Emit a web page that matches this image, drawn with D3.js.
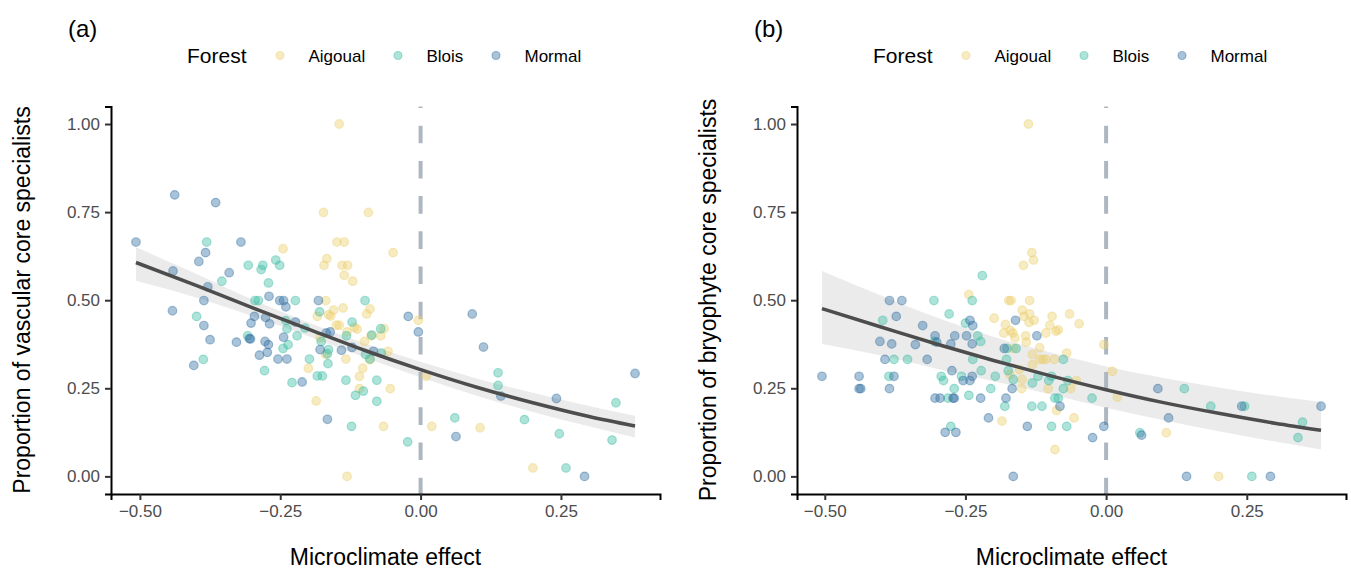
<!DOCTYPE html>
<html>
<head>
<meta charset="utf-8">
<script src="https://cdn.jsdelivr.net/npm/d3@7"></script>
<style>
body { margin: 0; background: #fff; }
text { font-family: 'Liberation Sans', Arial, sans-serif; }
</style>
</head>
<body>
<svg></svg>
<script>
// values: [microclimate effect, proportion]
let aigoualA = [[-0.145,1.00],[-0.173,0.749],[-0.093,0.749],[-0.149,0.665],[-0.136,0.665],[-0.245,0.646],[-0.049,0.635],[-0.167,0.618],[-0.172,0.599],[-0.140,0.599],[-0.130,0.599],[-0.136,0.571],[-0.121,0.554],[-0.169,0.499],[-0.200,0.307],[-0.186,0.214],[-0.131,0.000],[-0.066,0.142],[-0.109,0.284],[-0.103,0.307],[-0.109,0.249],[-0.054,0.249],[-0.133,0.333],[-0.169,0.346],[-0.091,0.331],[-0.058,0.355],[-0.100,0.383],[-0.088,0.399],[-0.071,0.399],[-0.065,0.419],[-0.131,0.410],[-0.118,0.423],[-0.150,0.429],[-0.145,0.429],[-0.113,0.418],[-0.179,0.393],[-0.164,0.459],[-0.160,0.455],[-0.184,0.454],[-0.155,0.472],[-0.138,0.478],[-0.096,0.461],[-0.090,0.475],[-0.004,0.443],[0.010,0.284],[0.020,0.142],[0.106,0.138],[0.200,0.024]]
let bloisA = [[-0.381,0.665],[-0.307,0.599],[-0.281,0.599],[-0.258,0.614],[-0.251,0.599],[-0.284,0.587],[-0.354,0.554],[-0.271,0.549],[-0.399,0.454],[-0.387,0.332],[-0.295,0.499],[-0.289,0.499],[-0.223,0.499],[-0.099,0.499],[-0.240,0.442],[-0.238,0.419],[-0.206,0.421],[-0.220,0.399],[-0.308,0.399],[-0.236,0.374],[-0.245,0.363],[-0.198,0.333],[-0.278,0.300],[-0.229,0.266],[-0.165,0.320],[-0.184,0.285],[-0.175,0.285],[-0.123,0.142],[-0.116,0.230],[-0.102,0.242],[-0.078,0.213],[-0.078,0.273],[-0.133,0.273],[-0.166,0.348],[-0.164,0.360],[-0.098,0.346],[-0.070,0.350],[-0.087,0.401],[-0.071,0.419],[-0.132,0.399],[-0.122,0.438],[-0.177,0.383],[-0.180,0.467],[-0.090,0.333],[-0.023,0.098],[0.061,0.166],[0.138,0.294],[0.138,0.258],[0.185,0.161],[0.247,0.121],[0.259,0.024],[0.348,0.209],[0.341,0.103]]
let mormalA = [[-0.438,0.799],[-0.365,0.777],[-0.507,0.665],[-0.320,0.665],[-0.383,0.635],[-0.395,0.610],[-0.441,0.583],[-0.341,0.578],[-0.379,0.538],[-0.442,0.470],[-0.386,0.499],[-0.386,0.428],[-0.375,0.388],[-0.404,0.315],[-0.270,0.511],[-0.251,0.499],[-0.244,0.499],[-0.240,0.481],[-0.182,0.499],[-0.296,0.454],[-0.302,0.435],[-0.276,0.451],[-0.269,0.433],[-0.223,0.438],[-0.305,0.391],[-0.303,0.390],[-0.277,0.383],[-0.271,0.374],[-0.244,0.395],[-0.273,0.352],[-0.287,0.344],[-0.254,0.333],[-0.238,0.333],[-0.328,0.381],[-0.211,0.268],[-0.166,0.162],[-0.179,0.360],[-0.141,0.358],[-0.122,0.366],[-0.084,0.355],[-0.161,0.410],[-0.168,0.407],[-0.022,0.454],[-0.004,0.410],[0.063,0.113],[0.092,0.461],[0.112,0.367],[0.143,0.228],[0.242,0.221],[0.292,0.000],[0.382,0.292]]

let aigoualB = [[-0.138,1.00],[-0.132,0.635],[-0.129,0.614],[-0.147,0.599],[-0.244,0.516],[-0.173,0.499],[-0.169,0.499],[-0.136,0.499],[-0.185,0.157],[-0.091,0.076],[-0.057,0.166],[-0.088,0.187],[-0.150,0.249],[-0.103,0.249],[-0.063,0.249],[-0.053,0.272],[-0.149,0.275],[-0.171,0.289],[-0.165,0.363],[-0.154,0.303],[-0.131,0.317],[-0.131,0.346],[-0.118,0.365],[-0.118,0.332],[-0.112,0.332],[-0.107,0.332],[-0.092,0.332],[-0.070,0.350],[-0.142,0.381],[-0.143,0.399],[-0.162,0.393],[-0.166,0.407],[-0.170,0.414],[-0.182,0.407],[-0.179,0.431],[-0.107,0.407],[-0.089,0.412],[-0.085,0.416],[-0.100,0.429],[-0.199,0.449],[-0.137,0.437],[-0.128,0.443],[-0.146,0.454],[-0.136,0.461],[-0.149,0.472],[-0.096,0.454],[-0.065,0.461],[-0.048,0.433],[-0.004,0.374],[0.011,0.298],[0.020,0.225],[0.107,0.124],[0.200,0.000]]
let bloisB = [[-0.220,0.570],[-0.306,0.499],[-0.238,0.499],[-0.397,0.443],[-0.279,0.461],[-0.250,0.435],[-0.305,0.383],[-0.228,0.399],[-0.223,0.383],[-0.377,0.332],[-0.353,0.332],[-0.237,0.332],[-0.386,0.284],[-0.293,0.284],[-0.289,0.272],[-0.257,0.284],[-0.222,0.300],[-0.270,0.249],[-0.281,0.222],[-0.244,0.230],[-0.205,0.249],[-0.197,0.284],[-0.276,0.142],[-0.097,0.142],[-0.070,0.142],[-0.132,0.199],[-0.114,0.199],[-0.180,0.199],[-0.091,0.222],[-0.085,0.222],[-0.076,0.249],[-0.131,0.265],[-0.102,0.272],[-0.068,0.272],[-0.097,0.284],[-0.121,0.284],[-0.165,0.275],[-0.174,0.300],[-0.177,0.332],[-0.176,0.363],[-0.160,0.363],[-0.076,0.332],[-0.025,0.222],[0.060,0.124],[0.139,0.249],[0.186,0.199],[0.246,0.199],[0.259,0.000],[0.349,0.154],[0.341,0.110]]
let mormalB = [[-0.385,0.499],[-0.363,0.499],[-0.373,0.454],[-0.326,0.428],[-0.242,0.443],[-0.237,0.428],[-0.402,0.383],[-0.381,0.376],[-0.339,0.374],[-0.304,0.399],[-0.301,0.381],[-0.269,0.399],[-0.276,0.376],[-0.248,0.399],[-0.238,0.376],[-0.393,0.332],[-0.318,0.332],[-0.505,0.284],[-0.439,0.284],[-0.377,0.284],[-0.439,0.249],[-0.436,0.249],[-0.385,0.249],[-0.274,0.300],[-0.238,0.284],[-0.254,0.272],[-0.242,0.272],[-0.304,0.222],[-0.295,0.222],[-0.272,0.222],[-0.270,0.222],[-0.223,0.222],[-0.209,0.166],[-0.286,0.125],[-0.267,0.125],[-0.165,0.000],[-0.140,0.142],[-0.082,0.199],[-0.178,0.222],[-0.167,0.249],[-0.181,0.363],[-0.123,0.399],[-0.161,0.443],[-0.024,0.110],[-0.004,0.142],[0.063,0.117],[0.092,0.249],[0.111,0.166],[0.143,0.000],[0.241,0.199],[0.292,0.000],[0.382,0.199]]

// fitted curve and its confidence band, read at these x positions
let fitXA = [-0.507, -0.4, -0.3, -0.2, -0.1, 0, 0.1, 0.2, 0.3, 0.382]
let fitA = [0.607, 0.542, 0.479, 0.418, 0.358, 0.303, 0.253, 0.209, 0.170, 0.143]
let loA = [0.555, 0.508, 0.455, 0.398, 0.338, 0.281, 0.229, 0.183, 0.142, 0.110]
let hiA = [0.650, 0.575, 0.502, 0.437, 0.378, 0.325, 0.278, 0.237, 0.200, 0.172]
let fitXB = [-0.505, -0.4, -0.3, -0.2, -0.1, 0, 0.1, 0.2, 0.3, 0.382]
let fitB = [0.476, 0.424, 0.375, 0.329, 0.286, 0.246, 0.210, 0.179, 0.151, 0.131]
let loB = [0.376, 0.343, 0.305, 0.270, 0.233, 0.195, 0.160, 0.128, 0.099, 0.076]
let hiB = [0.583, 0.513, 0.450, 0.396, 0.352, 0.312, 0.280, 0.252, 0.228, 0.211]

let forests = ['Aigoual', 'Blois', 'Mormal']
let xTicks = [-0.5, -0.25, 0, 0.25]
let yTicks = [0, 0.25, 0.5, 0.75, 1]

let width = 1351
let height = 571
let svg = d3.select('svg').attr('width', width).attr('height', height)
let color = d3.scaleOrdinal().domain(forests).range(['#EBCF6E', '#3BBDA4', '#336FA2'])

let drawPanel = (left, tag, yTitle, groups, fitX, fit, lo, hi) => {
    let g = svg.append('g')
    let all = groups.flat()
    let ext = d3.extent(all, (d) => d[0])
    let pad = (ext[1] - ext[0]) * 0.05
    let x = d3.scaleLinear().domain([ext[0] - pad, ext[1] + pad]).range([left, left + 549])
    let y = d3.scaleLinear().domain([-0.05, 1.05]).range([494, 106.4])

    // confidence band
    let band = d3.area()
        .x((d, i) => x(fitX[i]))
        .y0((d, i) => y(lo[i]))
        .y1((d, i) => y(hi[i]))
        .curve(d3.curveMonotoneX)
    g.append('path')
        .attr('d', band(fit))
        .attr('fill', '#999')
        .attr('fill-opacity', 0.2)

    // zero line
    g.append('line')
        .attr('x1', x(0)).attr('x2', x(0))
        .attr('y1', y.range()[0]).attr('y2', y.range()[1])
        .attr('stroke', '#AEB7C1')
        .attr('stroke-width', 4)
        .attr('stroke-dasharray', '17.6,17.6')
        .attr('stroke-dashoffset', 1.3)

    groups.forEach((pts, k) => {
        g.append('g').selectAll('circle')
            .data(pts)
            .enter()
            .append('circle')
            .attr('cx', (d) => x(d[0]))
            .attr('cy', (d) => y(d[1]))
            .attr('r', 4.3)
            .attr('fill', color(forests[k]))
            .attr('fill-opacity', 0.42)
            .attr('stroke', color(forests[k]))
            .attr('stroke-opacity', 0.42)
            .attr('stroke-width', 1.2)
    })

    let line = d3.line()
        .x((d, i) => x(fitX[i]))
        .y((d) => y(d))
        .curve(d3.curveMonotoneX)
    g.append('path')
        .attr('d', line(fit))
        .attr('fill', 'none')
        .attr('stroke', '#4D4D4D')
        .attr('stroke-width', 3.5)

    // axes
    let xAxis = d3.axisBottom(x).tickValues(xTicks).tickFormat(d3.format('.2f')).tickSizeOuter(0).tickSize(6).tickPadding(5)
    let yAxis = d3.axisLeft(y).tickValues(yTicks).tickFormat(d3.format('.2f')).tickSizeOuter(0).tickSize(6).tickPadding(5)
    let xg = g.append('g').attr('transform', 'translate(0,494)').call(xAxis)
    let yg = g.append('g').attr('transform', 'translate(' + left + ',0)').call(yAxis)
    ;[xg, yg].forEach((a) => {
        a.select('.domain').attr('stroke', '#000').attr('stroke-width', 2)
        a.selectAll('.tick line').attr('stroke', '#333').attr('stroke-width', 2)
        a.selectAll('.tick text').attr('fill', '#4D4D4D').style('font-size', '17px')
    })

    g.append('text')
        .attr('x', (x.range()[0] + x.range()[1]) / 2)
        .attr('y', 565)
        .attr('text-anchor', 'middle')
        .style('font-size', '23px')
        .text('Microclimate effect')
    g.append('text')
        .attr('transform', 'translate(' + (left - 81) + ',300) rotate(-90)')
        .attr('text-anchor', 'middle')
        .style('font-size', '23px')
        .text(yTitle)

    g.append('text')
        .attr('x', left - 43)
        .attr('y', 37)
        .style('font-size', '24px')
        .text(tag)

    // legend
    let lg = g.append('g')
    lg.append('text')
        .attr('x', left + 76)
        .attr('y', 62.5)
        .style('font-size', '21px')
        .text('Forest')
    let keyX = [169, 287, 385]
    forests.forEach((f, k) => {
        lg.append('circle')
            .attr('cx', left + keyX[k])
            .attr('cy', 55.5)
            .attr('r', 4)
            .attr('fill', color(f))
            .attr('fill-opacity', 0.42)
            .attr('stroke', color(f))
            .attr('stroke-opacity', 0.42)
            .attr('stroke-width', 1.2)
        lg.append('text')
            .attr('x', left + keyX[k] + 28.5)
            .attr('y', 62)
            .style('font-size', '17px')
            .text(f)
    })
}

drawPanel(111, '(a)', 'Proportion of vascular core specialists', [aigoualA, bloisA, mormalA], fitXA, fitA, loA, hiA)
drawPanel(797, '(b)', 'Proportion of bryophyte core specialists', [aigoualB, bloisB, mormalB], fitXB, fitB, loB, hiB)
</script>
</body>
</html>
